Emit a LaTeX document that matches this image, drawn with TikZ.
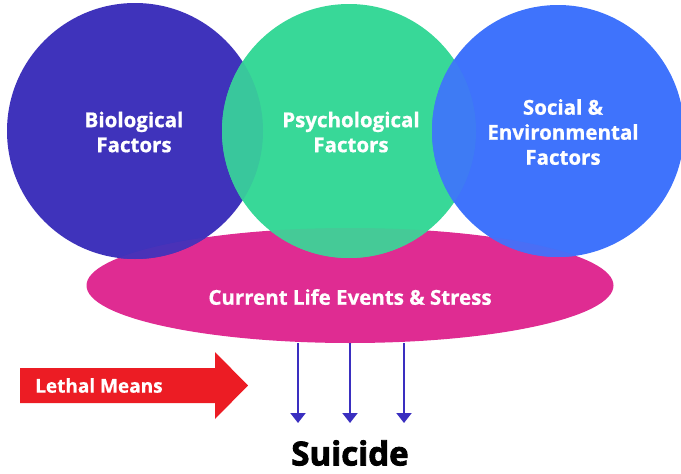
\documentclass[tikz,border=0pt]{standalone}
\usepackage{fontspec}
\setmainfont{Open Sans}[BoldFeatures={FakeBold=0.7}]
\newfontfamily\heavyfont{Open Sans}[BoldFeatures={FakeBold=2.6}]
\usetikzlibrary{arrows.meta}
\definecolor{bioC}{RGB}{63,51,187}
\definecolor{psyC}{RGB}{56,216,152}
\definecolor{socC}{RGB}{63,115,252}
\definecolor{pinkC}{RGB}{223,44,146}
\definecolor{redC}{RGB}{236,28,36}
\definecolor{arrC}{RGB}{58,47,192}
\tikzset{
  lbl/.style={text=white, font=\fontsize{20.5}{25}\selectfont\bfseries, align=center},
  downarrow/.style={draw=arrC, line width=2pt, -{Triangle[width=15pt,length=10pt]}}
}
\def\pinkpath{(350,285.5) ellipse [x radius=263.5, y radius=57.5]}
\def\biopath{(135,131) circle [radius=128]}
\def\psypath{(349,131) circle [radius=127]}
\def\socpath{(558,131) circle [radius=126]}
\begin{document}
\begin{tikzpicture}[x=1pt,y=-1pt]
\useasboundingbox (0,0) rectangle (681,474);
\fill[pinkC] \pinkpath;
\fill[bioC] \biopath;
\begin{scope}\clip \pinkpath; \fill[bioC!93!pinkC] \biopath; \end{scope}
\fill[psyC] \psypath;
\begin{scope}\clip \biopath; \fill[psyC!90!bioC] \psypath; \end{scope}
\begin{scope}\clip \pinkpath; \fill[psyC!92!pinkC] \psypath; \end{scope}
\fill[socC] \socpath;
\begin{scope}\clip \psypath; \fill[socC!92!psyC] \socpath; \end{scope}
\begin{scope}\clip \pinkpath; \fill[socC!93!pinkC] \socpath; \end{scope}
\node[lbl] (bio) at (134,132) {Biological\\Factors};
\node[lbl] (psy) at (351,132) {Psychological\\Factors};
\node[lbl] (soc) at (563,132) {Social \&\\Environmental\\Factors};
\node[lbl, inner sep=0] (cur) at (350,297) {Current Life Events \& Stress};
\coordinate (e1) at (298,343);
\coordinate (e2) at (350,343);
\coordinate (e3) at (404,343);
\coordinate (t1) at (298,423);
\coordinate (t2) at (350,423);
\coordinate (t3) at (404,423);
\draw[downarrow] (e1) -- (t1);
\draw[downarrow] (e2) -- (t2);
\draw[downarrow] (e3) -- (t3);
\fill[redC] (20,368) -- (215,368) -- (215,352) -- (248,385.5) -- (215,419) -- (215,403) -- (20,403) -- cycle;
\node[text=white, font=\fontsize{19}{22}\selectfont\bfseries, anchor=west, inner sep=0] (leth) at (35,385.5) {Lethal Means};
\node[font=\heavyfont\fontsize{33}{38}\selectfont\bfseries, inner sep=0] (sui) at (350,453) {Suicide};
\end{tikzpicture}
\end{document}
